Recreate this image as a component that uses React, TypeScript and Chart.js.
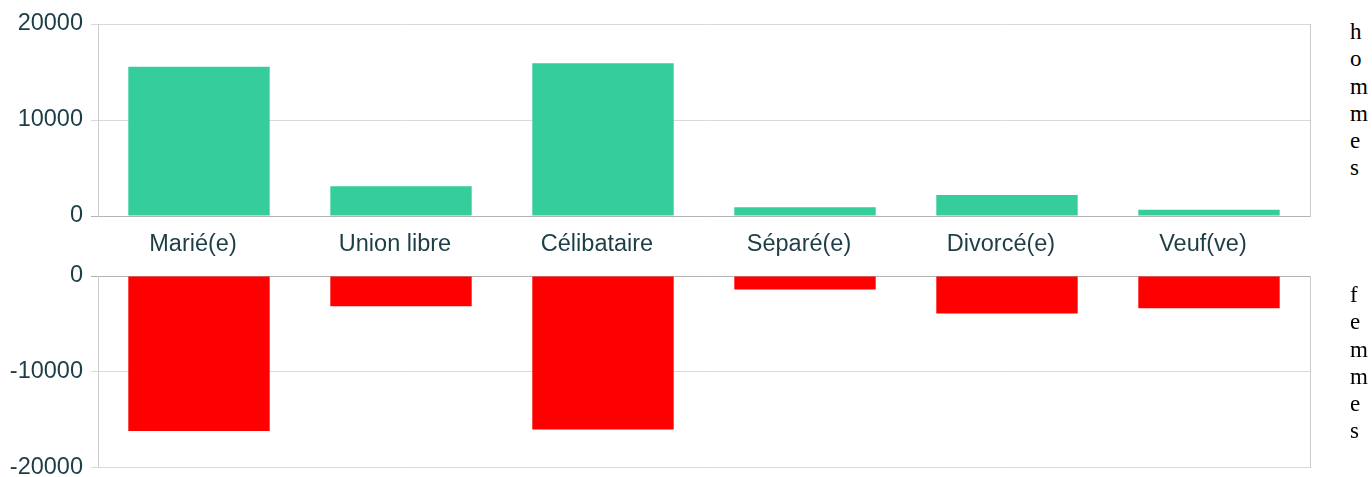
import React, { useEffect, useRef } from "react";
import { Chart, registerables } from "chart.js";

Chart.register(...registerables);

// ---- data ----
const categories = ["Marié(e)", "Union libre", "Célibataire", "Séparé(e)", "Divorcé(e)", "Veuf(ve)"];
const hommes = [15550, 3100, 15900, 900, 2200, 650];
const femmes = [16150, 3150, 16000, 1400, 3900, 3350];
const hommesTicks = [0, 10000, 20000];
const femmesTicks = [-20000, -10000, 0];
const hommesLabel = "hommes";
const femmesLabel = "femmes";

// ---- styles ----
const GREEN = "#36cd9c";
const RED = "#ff0000";
const TEXT = "#1d3d47";
const GRID = "#d9d9d9";
const ZERO = "#b3b3b3";
const AXIS = "#cccccc";
const FONT = { family: "'Liberation Sans', Arial, Helvetica, sans-serif", size: 23.5 };

const gridColor = (ctx: any) => (ctx.tick && ctx.tick.value === 0 ? ZERO : GRID);

function rightBorderAxis() {
  return {
    type: "linear" as const,
    position: "right" as const,
    display: true,
    grid: { display: false, drawTicks: false },
    ticks: { display: false },
    border: { display: true, color: AXIS, width: 1 },
    afterFit: (s: any) => {
      s.width = 0;
    },
  };
}

function leftAxis(min: number, max: number, tickValues: number[]) {
  return {
    type: "linear" as const,
    position: "left" as const,
    min,
    max,
    afterBuildTicks: (s: any) => {
      s.ticks = tickValues.map((v) => ({ value: v }));
    },
    afterFit: (s: any) => {
      s.width = 98;
    },
    grid: { color: gridColor, tickColor: gridColor, tickLength: 7, lineWidth: 1, drawTicks: true },
    border: { display: true, color: AXIS, width: 1 },
    ticks: {
      padding: 8,
      color: TEXT,
      font: FONT,
      callback: (v: any) => String(v),
    },
  };
}

function TopChart() {
  const ref = useRef<HTMLCanvasElement>(null);
  useEffect(() => {
    if (!ref.current) return;
    const chart = new Chart(ref.current, {
      type: "bar",
      data: {
        labels: categories,
        datasets: [
          {
            label: hommesLabel,
            data: hommes,
            backgroundColor: GREEN,
            borderWidth: 0,
            barPercentage: 0.7,
            categoryPercentage: 1,
            yAxisID: "y",
          },
        ],
      },
      options: {
        animation: false,
        responsive: false,
        devicePixelRatio: 1,
        layout: { padding: { top: 24, right: 10, bottom: 0, left: 0 } },
        plugins: { legend: { display: false }, tooltip: { enabled: false }, title: { display: false } },
        scales: {
          x: {
            type: "category",
            position: "bottom",
            offset: true,
            grid: { display: false, drawTicks: false },
            border: { display: true, color: ZERO, width: 1 },
            ticks: {
              color: TEXT,
              font: FONT,
              padding: 14,
              labelOffset: -6,
              maxRotation: 0,
              minRotation: 0,
              autoSkip: false,
            },
            afterFit: (s: any) => {
              s.height = 46;
            },
          },
          y: leftAxis(0, 20000, hommesTicks),
          yR: rightBorderAxis(),
        } as any,
      },
    });
    return () => chart.destroy();
  }, []);
  return <canvas ref={ref} width={1320} height={262} style={{ display: "block" }} />;
}

function BottomChart() {
  const ref = useRef<HTMLCanvasElement>(null);
  useEffect(() => {
    if (!ref.current) return;
    const chart = new Chart(ref.current, {
      type: "bar",
      data: {
        labels: categories,
        datasets: [
          {
            label: femmesLabel,
            data: femmes.map((v) => -v),
            backgroundColor: RED,
            borderWidth: 0,
            barPercentage: 0.7,
            categoryPercentage: 1,
            yAxisID: "y",
          },
        ],
      },
      options: {
        animation: false,
        responsive: false,
        devicePixelRatio: 1,
        layout: { padding: { top: 26, right: 10, bottom: 22, left: 0 } },
        plugins: { legend: { display: false }, tooltip: { enabled: false }, title: { display: false } },
        scales: {
          x: {
            type: "category",
            position: "top",
            offset: true,
            grid: { display: false, drawTicks: false },
            border: { display: true, color: ZERO, width: 1 },
            ticks: { display: false },
            afterFit: (s: any) => {
              s.height = 0;
            },
          },
          y: leftAxis(-20000, 0, femmesTicks),
          yR: rightBorderAxis(),
        } as any,
      },
    });
    return () => chart.destroy();
  }, []);
  return <canvas ref={ref} width={1320} height={240} style={{ display: "block" }} />;
}

const sideText: React.CSSProperties = {
  position: "absolute",
  left: 1350,
  width: 1,
  wordBreak: "break-all",
  fontFamily: "'Liberation Serif', 'Times New Roman', serif",
  fontSize: 23,
  lineHeight: "27.3px",
  color: "#000",
};

export default function App() {
  return (
    <div
      style={{
        position: "fixed",
        left: 0,
        top: 0,
        width: 1372,
        height: 477,
        overflow: "hidden",
        background: "#fff",
      }}
    >
      <div style={{ position: "absolute", left: 0, top: 0 }}>
        <TopChart />
      </div>
      <div style={{ position: "absolute", left: 0, top: 250 }}>
        <BottomChart />
      </div>
      <div style={{ ...sideText, top: 18 }}>{hommesLabel}</div>
      <div style={{ ...sideText, top: 281 }}>{femmesLabel}</div>
    </div>
  );
}
